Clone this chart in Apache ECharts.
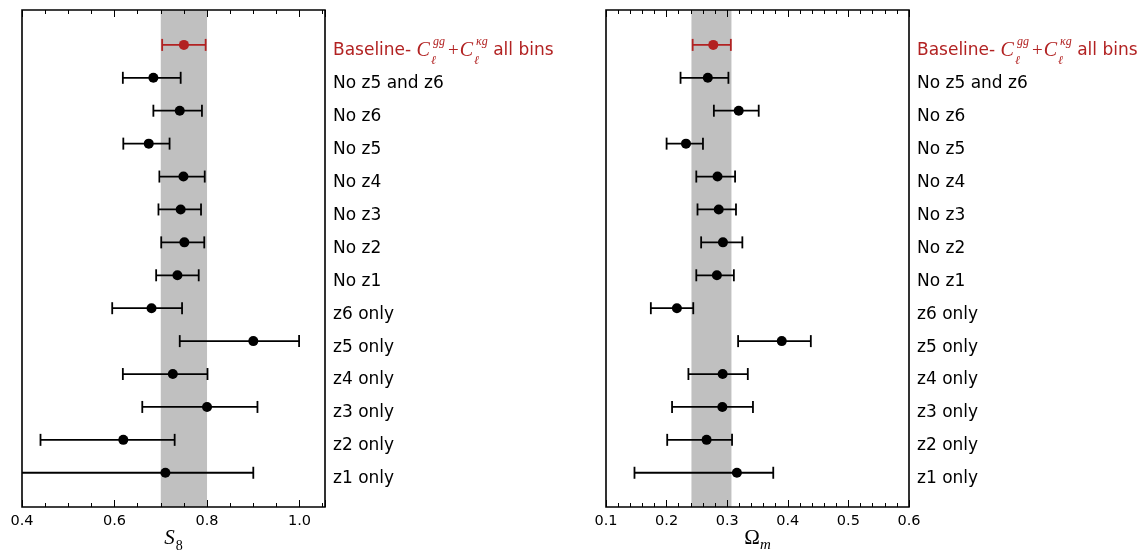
<!DOCTYPE html>
<html>
<head>
<meta charset="utf-8">
<script src="https://cdn.jsdelivr.net/npm/echarts@6/dist/echarts.min.js"></script>
<style>html,body{margin:0;padding:0;background:#fff}#c{width:1144px;height:552px}</style>
</head>
<body>
<div id="c"></div>
<script>
// ---- data ----
const rowLabels = ['Baseline', 'No z5 and z6', 'No z6', 'No z5', 'No z4', 'No z3', 'No z2', 'No z1',
  'z6 only', 'z5 only', 'z4 only', 'z3 only', 'z2 only', 'z1 only'];

const s8Mean = [0.750, 0.684, 0.741, 0.674, 0.749, 0.743, 0.751, 0.736, 0.680, 0.900, 0.726, 0.800, 0.619, 0.710];
const s8Lo   = [0.703, 0.618, 0.684, 0.619, 0.697, 0.695, 0.701, 0.690, 0.595, 0.741, 0.618, 0.660, 0.440, 0.380];
const s8Hi   = [0.797, 0.743, 0.789, 0.719, 0.795, 0.787, 0.794, 0.782, 0.746, 0.999, 0.801, 0.909, 0.730, 0.900];

const omMean = [0.277, 0.268, 0.319, 0.232, 0.284, 0.286, 0.293, 0.283, 0.217, 0.390, 0.2925, 0.292, 0.266, 0.316];
const omLo   = [0.243, 0.223, 0.278, 0.200, 0.249, 0.251, 0.257, 0.249, 0.174, 0.318, 0.236, 0.209, 0.201, 0.147];
const omHi   = [0.306, 0.302, 0.352, 0.260, 0.313, 0.3145, 0.325, 0.311, 0.244, 0.438, 0.334, 0.3425, 0.308, 0.376];

const s8Band = [0.70, 0.80];
const omBand = [0.241, 0.307];

const s8Ticks = [0.4, 0.6, 0.8, 1.0];
const omTicks = [0.1, 0.2, 0.3, 0.4, 0.5, 0.6];

// ---- styling ----
const RED = '#b22222';
const SANS = 'DejaVu Sans';
const SERIF = 'Liberation Serif';
const rowIdx = rowLabels.map((_, i) => i);

const labelRich = {
  base: { fontFamily: SANS, fontSize: 17, color: RED },
  m: { fontFamily: SERIF, fontStyle: 'italic', fontSize: 20, color: RED },
  op: { fontFamily: SERIF, fontSize: 19, color: RED, padding: [0, 1, 0, 3] },
  sub: { fontFamily: SERIF, fontStyle: 'italic', fontSize: 12, color: RED, verticalAlign: 'bottom', width: 1, padding: [0, 0, -6, 1] },
  sup: { fontFamily: SERIF, fontStyle: 'italic', fontSize: 12, color: RED, verticalAlign: 'top', padding: [-5, 0, 0, 1] },
  n: { fontFamily: SANS, fontSize: 17, color: '#000' }
};

function labelFmt(v) {
  const i = Math.round(v);
  if (i === 0) return '{base|Baseline- }{m|C}{sub|ℓ}{sup|gg}{op|+}{m|C}{sub|ℓ}{sup|κg}{base| all bins}';
  return '{n|' + rowLabels[i] + '}';
}

function makeX(gridIndex, min, max, interval, split, ticks, name, top) {
  return {
    type: 'value', gridIndex, min, max, interval,
    position: top ? 'top' : 'bottom',
    axisLine: { show: false, onZero: false },
    splitLine: { show: false },
    axisTick: { show: true, inside: true, length: 7, lineStyle: { color: '#000', width: 1 } },
    minorTick: { show: true, splitNumber: split, length: 4, lineStyle: { color: '#000', width: 1 } },
    axisLabel: top ? { show: false } : {
      show: true, margin: 7, fontFamily: SANS, fontSize: 14.5, color: '#000',
      customValues: ticks,
      formatter: (v) => v.toFixed(1)
    },
    name: top ? '' : name.text,
    nameLocation: 'middle', nameGap: 21,
    nameMoveOverlap: false,
    nameTextStyle: { rich: name.rich, verticalAlign: 'top' },
    z: 10
  };
}

function makeY(gridIndex) {
  return {
    type: 'value', gridIndex, inverse: true, min: -1.06, max: 14.04,
    position: 'right',
    axisLine: { show: false, onZero: false }, axisTick: { show: false }, splitLine: { show: false },
    axisLabel: {
      show: true, customValues: rowIdx, margin: 8, align: 'left',
      formatter: labelFmt, rich: labelRich, padding: [12, 0, 0, 0]
    }
  };
}

function errBarSeries(xi, yi, lo, hi, band) {
  return {
    type: 'custom', xAxisIndex: xi, yAxisIndex: yi, clip: true, z: 3,
    data: lo.map((l, i) => [l, hi[i], i]),
    renderItem: function (params, api) {
      const y = api.value(2);
      const p1 = api.coord([api.value(0), y]);
      const p2 = api.coord([api.value(1), y]);
      const col = params.dataIndex === 0 ? RED : '#000';
      const st = { stroke: col, lineWidth: 1.8 };
      const h = 6;
      return {
        type: 'group', children: [
          { type: 'line', shape: { x1: p1[0], y1: p1[1], x2: p2[0], y2: p2[1] }, style: st },
          { type: 'line', shape: { x1: p1[0], y1: p1[1] - h, x2: p1[0], y2: p1[1] + h }, style: st },
          { type: 'line', shape: { x1: p2[0], y1: p2[1] - h, x2: p2[0], y2: p2[1] + h }, style: st }
        ]
      };
    },
    markArea: {
      silent: true,
      itemStyle: { color: '#c0c0c0', opacity: 1 },
      data: [[{ xAxis: band[0] }, { xAxis: band[1] }]]
    }
  };
}

function pointSeries(xi, yi, mean) {
  return {
    type: 'scatter', xAxisIndex: xi, yAxisIndex: yi, z: 4,
    symbol: 'circle', symbolSize: 10,
    data: mean.map((m, i) => ({ value: [m, i], itemStyle: { color: i === 0 ? RED : '#000', opacity: 1 } })),
    silent: true
  };
}

const s8Name = {
  text: '{i|S}{s|8}',
  rich: {
    i: { fontFamily: SERIF, fontStyle: 'italic', fontSize: 21, color: '#000' },
    s: { fontFamily: SERIF, fontSize: 14, color: '#000', verticalAlign: 'bottom', padding: [0, 0, -4, 1] }
  }
};
const omName = {
  text: '{o|Ω}{s|m}',
  rich: {
    o: { fontFamily: SERIF, fontSize: 21, color: '#000' },
    s: { fontFamily: SERIF, fontStyle: 'italic', fontSize: 15, color: '#000', verticalAlign: 'bottom', padding: [0, 0, -4, 0] }
  }
};

const chart = echarts.init(document.getElementById('c'), null, { renderer: 'canvas' });
chart.setOption({
  animation: false,
  backgroundColor: '#fff',
  grid: [
    { left: 22, right: 1144 - 325, top: 10, bottom: 552 - 507, show: true, borderColor: '#000', borderWidth: 1.6, backgroundColor: 'transparent', z: 20, outerBoundsMode: 'none', containLabel: false },
    { left: 606, right: 1144 - 909, top: 10, bottom: 552 - 507, show: true, borderColor: '#000', borderWidth: 1.6, backgroundColor: 'transparent', z: 20, outerBoundsMode: 'none', containLabel: false }
  ],
  xAxis: [
    makeX(0, 0.4, 1.055, 0.2, 4, s8Ticks, s8Name, false),
    makeX(0, 0.4, 1.055, 0.2, 4, s8Ticks, s8Name, true),
    makeX(1, 0.1, 0.6, 0.1, 5, omTicks, omName, false),
    makeX(1, 0.1, 0.6, 0.1, 5, omTicks, omName, true)
  ],
  yAxis: [makeY(0), makeY(1)],
  series: [
    errBarSeries(0, 0, s8Lo, s8Hi, s8Band),
    pointSeries(0, 0, s8Mean),
    errBarSeries(2, 1, omLo, omHi, omBand),
    pointSeries(2, 1, omMean)
  ]
});
</script>
</body>
</html>
